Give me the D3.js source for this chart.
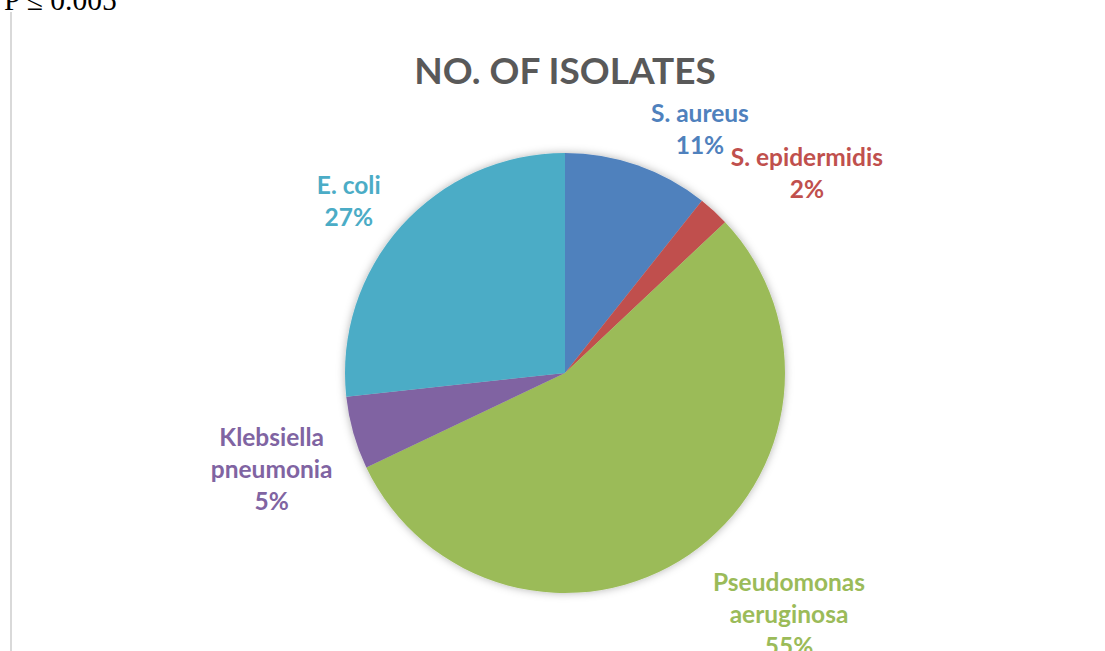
<!DOCTYPE html>
<html>
<head>
<meta charset="utf-8">
<script src="https://cdn.jsdelivr.net/npm/d3@7"></script>
<style>
  body { margin: 0; background: #fff; }
  svg { display: block; }
</style>
</head>
<body>
<div id="chart"></div>
<script>
// data (counts fit the shown percentages)
const categories = ["S. aureus", "S. epidermidis", "Pseudomonas aeruginosa", "Klebsiella pneumonia", "E. coli"];
const counts = [14, 3, 72, 7, 35];
const labelLines = [["S. aureus"], ["S. epidermidis"], ["Pseudomonas", "aeruginosa"], ["Klebsiella", "pneumonia"], ["E. coli"]];
const colors = ["#4F81BD", "#C0504D", "#9BBB59", "#8064A2", "#4BACC6"];

const width = 1105, height = 651;
const cx = 565, cy = 373, radius = 220;

// where each label sits: shift from slice mid angle (deg) and distance from centre
const labelNudge = [
  {dAngle: 9.8, dist: 278},
  {dAngle: 8.0, dist: 313},
  {dAngle: -8.4, dist: 330},
  {dAngle: -2.5, dist: 309},
  {dAngle: -3.5, dist: 276}
];

const svg = d3.select("#chart").append("svg")
  .attr("width", width)
  .attr("height", height);

// soft outer shadow like the office chart
const defs = svg.append("defs");
defs.append("filter")
  .attr("id", "shadow")
  .attr("x", "-20%").attr("y", "-20%")
  .attr("width", "140%").attr("height", "140%")
  .append("feDropShadow")
  .attr("dx", 0).attr("dy", 0)
  .attr("stdDeviation", 4)
  .attr("flood-color", "#000")
  .attr("flood-opacity", 0.3);

// cut-off text and rule from the page around the chart
svg.append("text")
  .attr("x", 4).attr("y", 10)
  .attr("font-family", "Liberation Serif, Times New Roman, serif")
  .attr("font-size", 29.5)
  .attr("fill", "#000")
  .text("P ≤ 0.005");

svg.append("line")
  .attr("x1", 11).attr("x2", 11)
  .attr("y1", 12).attr("y2", height)
  .attr("stroke", "#d9d9d9")
  .attr("stroke-width", 2);

svg.append("text")
  .attr("x", cx).attr("y", 84)
  .attr("text-anchor", "middle")
  .attr("font-family", "Lato, Carlito, Calibri, sans-serif")
  .attr("font-weight", "bold")
  .attr("font-size", 37)
  .attr("fill", "#595959")
  .text("NO. OF ISOLATES");

const total = d3.sum(counts);
const pie = d3.pie().sort(null).value(d => d);
const arcs = pie(counts);
const arc = d3.arc().innerRadius(0).outerRadius(radius);

const g = svg.append("g")
  .attr("transform", `translate(${cx},${cy})`);

g.append("g")
  .attr("filter", "url(#shadow)")
  .selectAll("path")
  .data(arcs)
  .join("path")
  .attr("d", arc)
  .attr("fill", (d, i) => colors[i]);

const lineH = 32;
const pct = d3.format(".0%");

arcs.forEach((d, i) => {
  const mid = (d.startAngle + d.endAngle) / 2 + labelNudge[i].dAngle * Math.PI / 180;
  const x = Math.sin(mid) * labelNudge[i].dist;
  const y = -Math.cos(mid) * labelNudge[i].dist;
  const lines = labelLines[i].concat([pct(d.value / total)]);
  const top = y - (lines.length * lineH) / 2;

  const t = g.append("text")
    .attr("text-anchor", "middle")
    .attr("font-family", "Lato, Carlito, Calibri, sans-serif")
    .attr("font-weight", "bold")
    .attr("font-size", 24.5)
    .attr("fill", colors[i]);

  lines.forEach((s, k) => {
    t.append("tspan")
      .attr("x", x)
      .attr("y", top + k * lineH + 24)
      .text(s);
  });
});
</script>
</body>
</html>
